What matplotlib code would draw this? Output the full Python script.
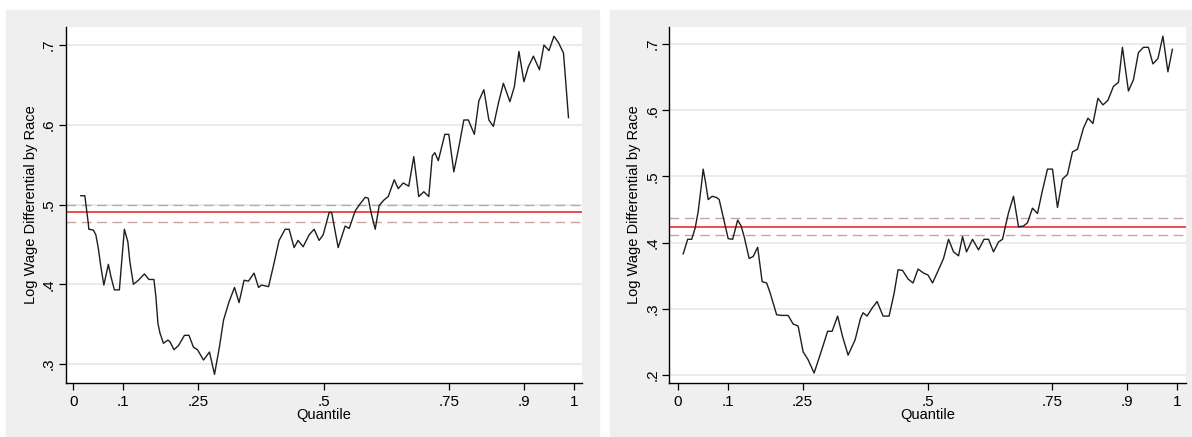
import matplotlib
matplotlib.use("Agg")
import matplotlib.pyplot as plt
from matplotlib.patches import Rectangle

# quantile curve, left panel
left_q = [0.015, 0.023, 0.030, 0.031, 0.040, 0.045, 0.050, 0.055, 0.061, 0.070,
          0.075, 0.082, 0.092, 0.102, 0.109, 0.113, 0.120, 0.130, 0.142, 0.151,
          0.161, 0.165, 0.169, 0.173, 0.180, 0.189, 0.193, 0.201, 0.210, 0.222,
          0.231, 0.240, 0.248, 0.260, 0.272, 0.282, 0.292, 0.300, 0.311, 0.322,
          0.331, 0.341, 0.350, 0.361, 0.370, 0.376, 0.390, 0.400, 0.411, 0.423,
          0.431, 0.441, 0.449, 0.459, 0.471, 0.481, 0.491, 0.499, 0.511, 0.516,
          0.529, 0.543, 0.551, 0.563, 0.573, 0.583, 0.589, 0.595, 0.603, 0.611,
          0.621, 0.629, 0.641, 0.649, 0.659, 0.670, 0.680, 0.690, 0.700, 0.710,
          0.717, 0.722, 0.729, 0.742, 0.750, 0.760, 0.770, 0.780, 0.789, 0.801,
          0.810, 0.820, 0.830, 0.839, 0.849, 0.859, 0.872, 0.881, 0.890, 0.900,
          0.909, 0.919, 0.931, 0.940, 0.950, 0.960, 0.969, 0.979, 0.983, 0.989]
left_val = [0.511, 0.511, 0.476, 0.469, 0.468, 0.462, 0.445, 0.422, 0.399, 0.425,
            0.410, 0.393, 0.393, 0.469, 0.453, 0.428, 0.400, 0.405, 0.413, 0.406,
            0.406, 0.384, 0.351, 0.339, 0.326, 0.330, 0.328, 0.318, 0.323, 0.336,
            0.336, 0.321, 0.318, 0.305, 0.315, 0.287, 0.322, 0.355, 0.378, 0.396,
            0.377, 0.405, 0.404, 0.414, 0.396, 0.399, 0.397, 0.424, 0.455, 0.469,
            0.469, 0.446, 0.455, 0.447, 0.462, 0.469, 0.455, 0.462, 0.490, 0.490,
            0.446, 0.473, 0.470, 0.492, 0.501, 0.509, 0.508, 0.489, 0.469, 0.499,
            0.506, 0.510, 0.531, 0.520, 0.527, 0.523, 0.560, 0.510, 0.516, 0.510,
            0.561, 0.565, 0.555, 0.588, 0.588, 0.541, 0.572, 0.606, 0.606, 0.588,
            0.630, 0.644, 0.606, 0.598, 0.627, 0.652, 0.629, 0.648, 0.692, 0.654,
            0.673, 0.686, 0.669, 0.700, 0.693, 0.711, 0.703, 0.690, 0.658, 0.609]

# quantile curve, right panel
right_q = [0.011, 0.020, 0.028, 0.035, 0.041, 0.047, 0.051, 0.056, 0.061, 0.069,
           0.078, 0.083, 0.091, 0.101, 0.110, 0.120, 0.127, 0.133, 0.143, 0.151,
           0.160, 0.169, 0.178, 0.185, 0.198, 0.208, 0.221, 0.231, 0.241, 0.251,
           0.261, 0.273, 0.287, 0.300, 0.309, 0.320, 0.330, 0.341, 0.355, 0.366,
           0.371, 0.379, 0.389, 0.399, 0.411, 0.423, 0.433, 0.441, 0.450, 0.461,
           0.471, 0.481, 0.492, 0.501, 0.510, 0.522, 0.532, 0.542, 0.552, 0.562,
           0.570, 0.578, 0.590, 0.602, 0.613, 0.622, 0.632, 0.642, 0.650, 0.655,
           0.662, 0.672, 0.682, 0.692, 0.700, 0.710, 0.720, 0.730, 0.740, 0.750,
           0.760, 0.770, 0.780, 0.790, 0.800, 0.812, 0.821, 0.831, 0.841, 0.851,
           0.861, 0.872, 0.882, 0.890, 0.902, 0.912, 0.922, 0.932, 0.942, 0.951,
           0.961, 0.971, 0.981, 0.990]
right_val = [0.383, 0.405, 0.405, 0.422, 0.447, 0.484, 0.511, 0.490, 0.465, 0.470,
             0.468, 0.465, 0.439, 0.406, 0.405, 0.434, 0.425, 0.409, 0.376, 0.379,
             0.393, 0.341, 0.339, 0.324, 0.291, 0.290, 0.290, 0.277, 0.274, 0.235,
             0.223, 0.203, 0.235, 0.266, 0.266, 0.289, 0.258, 0.230, 0.253, 0.286,
             0.294, 0.289, 0.301, 0.311, 0.289, 0.289, 0.323, 0.359, 0.358, 0.345,
             0.339, 0.360, 0.354, 0.351, 0.339, 0.359, 0.376, 0.405, 0.386, 0.380,
             0.409, 0.386, 0.405, 0.389, 0.405, 0.405, 0.386, 0.401, 0.405, 0.422,
             0.445, 0.470, 0.424, 0.425, 0.430, 0.452, 0.444, 0.479, 0.511, 0.511,
             0.453, 0.496, 0.503, 0.537, 0.541, 0.573, 0.588, 0.580, 0.618, 0.608,
             0.615, 0.636, 0.642, 0.695, 0.629, 0.646, 0.687, 0.695, 0.695, 0.670,
             0.678, 0.712, 0.658, 0.692]

# OLS estimate and confidence band
left_ref = [0.490, 0.478, 0.500]
right_ref = [0.424, 0.411, 0.437]

x_ticks = [0, 0.1, 0.25, 0.5, 0.75, 0.9, 1]
x_labels = ["0", ".1", ".25", ".5", ".75", ".9", "1"]
left_yticks = [0.3, 0.4, 0.5, 0.6, 0.7]
left_ylabels = [".3", ".4", ".5", ".6", ".7"]
right_yticks = [0.2, 0.3, 0.4, 0.5, 0.6, 0.7]
right_ylabels = [".2", ".3", ".4", ".5", ".6", ".7"]


def draw_panel(ax, q, val, ref, yticks, ylabels, xlim, ylim):
    '''One Stata style quantile plot'''
    for y in yticks:
        ax.axhline(y, color="#e6e6e6", lw=1.1, zorder=0)
    ax.plot(q, val, color="#1e1e1e", lw=1.0, zorder=3)
    ax.axhline(ref[0], color="#ee4b4b", lw=1.4, zorder=2)
    ax.axhline(ref[1], color="#c8a4a4", lw=1.0, dashes=(7, 4), zorder=2)
    ax.axhline(ref[2], color="#c8a4a4", lw=1.0, dashes=(7, 4), zorder=2)
    ax.set_xlim(xlim)
    ax.set_ylim(ylim)
    ax.set_xticks(x_ticks, x_labels)
    ax.set_yticks(yticks, ylabels)
    plt.setp(ax.get_yticklabels(), rotation=90, va="center")
    ax.tick_params(direction="out", length=5, width=0.9, labelsize=11,
                   colors="black", pad=4)
    ax.tick_params(axis="y", pad=2)
    for side in ["top", "right"]:
        ax.spines[side].set_visible(False)
    for side in ["left", "bottom"]:
        ax.spines[side].set_linewidth(1.0)
    ax.set_xlabel("Quantile", fontsize=10.5, labelpad=-1)
    ax.set_ylabel("Log Wage Differential by Race", fontsize=10.5, labelpad=3)
    ax.set_facecolor("white")


def main():
    plt.rcParams["font.family"] = ["Liberation Sans", "DejaVu Sans"]
    fig = plt.figure(figsize=(11.92, 4.37), dpi=100)
    fig.patches.append(Rectangle((6 / 1192, 0), 593 / 1192, 427 / 437,
                                 transform=fig.transFigure,
                                 color="#efefef", zorder=-5))
    fig.patches.append(Rectangle((610 / 1192, 0), 582 / 1192, 427 / 437,
                                 transform=fig.transFigure,
                                 color="#efefef", zorder=-5))

    ax1 = fig.add_axes([65.7 / 1192, 54 / 437, 516.3 / 1192, 356 / 437])
    draw_panel(ax1, left_q, left_val, left_ref, left_yticks, left_ylabels,
               (-0.0152, 1.016), (0.2762, 0.7226))

    ax2 = fig.add_axes([669.3 / 1192, 54 / 437, 516.7 / 1192, 356 / 437])
    draw_panel(ax2, right_q, right_val, right_ref, right_yticks,
               right_ylabels, (-0.0168, 1.0172), (0.1879, 0.7257))

    fig.savefig("out.png", dpi=100)


if __name__ == "__main__":
    main()
